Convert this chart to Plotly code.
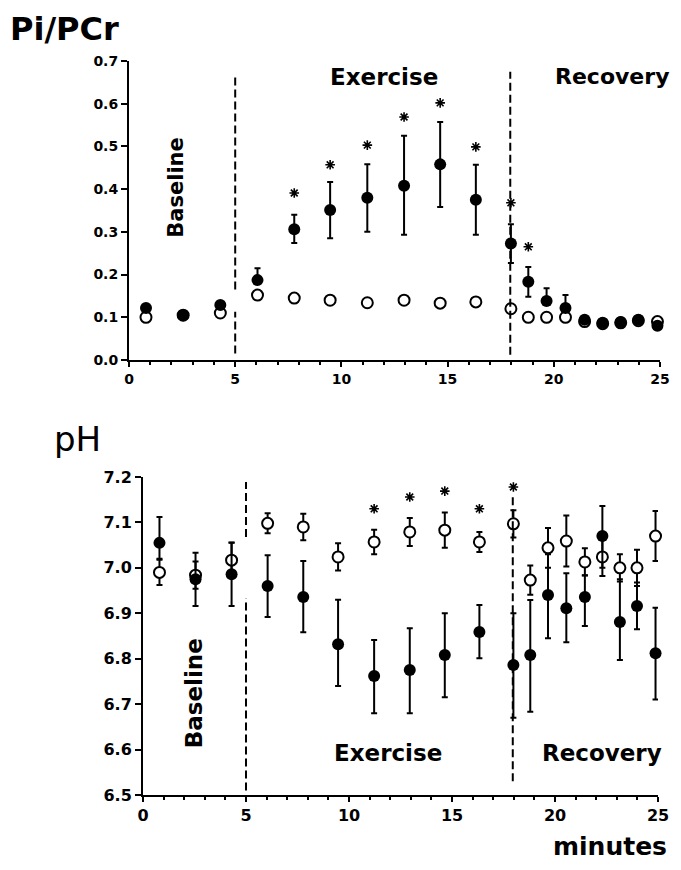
import plotly.graph_objects as go

# ---------------- data ----------------
minutes = [0.8, 2.55, 4.3, 6.05, 7.78, 9.47, 11.22, 12.95, 14.65, 16.33, 17.98,
           18.8, 19.66, 20.55, 21.45, 22.3, 23.15, 23.98, 24.88]

# Pi/PCr (filled = exercise group, open = control)
pi_filled = [0.122, 0.105, 0.129, 0.187, 0.306, 0.351, 0.380, 0.408, 0.458, 0.375,
             0.273, 0.183, 0.138, 0.122, 0.094, 0.087, 0.089, 0.094, 0.080]
pi_filled_up = [0, 0, 0, 0.028, 0.034, 0.066, 0.078, 0.117, 0.099, 0.082,
                0.045, 0.035, 0.030, 0.030, 0, 0, 0, 0, 0]
pi_filled_dn = [0, 0, 0, 0, 0.032, 0.066, 0.080, 0.115, 0.100, 0.082,
                0.046, 0.035, 0, 0, 0, 0, 0, 0, 0]
pi_open = [0.100, 0.105, 0.110, 0.152, 0.145, 0.140, 0.134, 0.140, 0.133, 0.136,
           0.120, 0.100, 0.100, 0.100, 0.090, 0.085, 0.087, 0.092, 0.090]
pi_star_idx = [4, 5, 6, 7, 8, 9, 10, 11]
pi_star_y = [0.391, 0.457, 0.503, 0.569, 0.602, 0.499, 0.368, 0.265]

# pH
ph_filled = [7.055, 6.975, 6.986, 6.960, 6.936, 6.832, 6.762, 6.775, 6.808, 6.859,
             6.786, 6.808, 6.940, 6.911, 6.936, 7.070, 6.881, 6.916, 6.812]
ph_filled_up = [0.057, 0.058, 0.070, 0.068, 0.079, 0.098, 0.079, 0.092, 0.092, 0.059,
                0.114, 0.121, 0.090, 0.077, 0.048, 0.066, 0.094, 0.052, 0.100]
ph_filled_dn = [0.035, 0.059, 0.070, 0.068, 0.078, 0.092, 0.082, 0.095, 0.093, 0.058,
                0.116, 0.125, 0.095, 0.075, 0.064, 0.070, 0.084, 0.051, 0.102]
ph_open = [6.990, 6.984, 7.017, 7.098, 7.090, 7.024, 7.057, 7.079, 7.083, 7.057,
           7.097, 6.973, 7.044, 7.059, 7.013, 7.024, 7.000, 7.000, 7.070]
ph_open_err = [0.028, 0.030, 0.038, 0.022, 0.029, 0.030, 0.027, 0.031, 0.039, 0.022,
               0.030, 0.032, 0.044, 0.056, 0.030, 0.042, 0.030, 0.040, 0.055]
ph_star_idx = [6, 7, 8, 9, 10]
ph_star_y = [7.13, 7.156, 7.169, 7.13, 7.178]

phase_bounds = [5, 17.95]
phase_names = ["Baseline", "Exercise", "Recovery"]

# ---------------- figure ----------------
FONT = "DejaVu Sans"
W, H = 665, 854   # page body has an 8px margin; 665+16 = 681, 854+16 = 870
OFF = 8

def px(p):        # target page x pixel -> paper fraction
    return (p - OFF) / W

def py(p):        # target page y pixel (from top) -> paper fraction
    return 1 - (p - OFF) / H

fig = go.Figure()

def add_panel(xa, ya, y_open, open_up, open_dn, y_fill, fill_up, fill_dn, star_idx, star_y):
    fig.add_trace(go.Scatter(
        x=minutes, y=y_open, mode="markers", xaxis=xa, yaxis=ya, cliponaxis=False,
        marker=dict(symbol="circle", size=11, color="white", line=dict(color="black", width=2)),
        error_y=dict(type="data", symmetric=False, array=open_up, arrayminus=open_dn,
                     color="black", thickness=2, width=3) if open_up is not None else None,
        showlegend=False))
    fig.add_trace(go.Scatter(
        x=minutes, y=y_fill, mode="markers", xaxis=xa, yaxis=ya, cliponaxis=False,
        marker=dict(symbol="circle", size=12, color="black"),
        error_y=dict(type="data", symmetric=False, array=fill_up, arrayminus=fill_dn,
                     color="black", thickness=2, width=3),
        showlegend=False))
    fig.add_trace(go.Scatter(
        x=[minutes[i] for i in star_idx], y=star_y, mode="markers", xaxis=xa, yaxis=ya,
        cliponaxis=False,
        marker=dict(symbol="asterisk-open", size=8, color="black",
                    line=dict(color="black", width=1.6)),
        showlegend=False))

add_panel("x", "y", pi_open, None, None, pi_filled, pi_filled_up, pi_filled_dn,
          pi_star_idx, pi_star_y)
add_panel("x2", "y2", ph_open, ph_open_err, ph_open_err, ph_filled, ph_filled_up,
          ph_filled_dn, ph_star_idx, ph_star_y)

dash_line = dict(color="black", width=2, dash="8px,4px")
# top panel separators
fig.add_shape(type="line", xref="x", yref="y", x0=phase_bounds[0], x1=phase_bounds[0],
              y0=0.165, y1=0.67, line=dash_line)
fig.add_shape(type="line", xref="x", yref="y", x0=phase_bounds[0], x1=phase_bounds[0],
              y0=0.015, y1=0.113, line=dash_line)
fig.add_shape(type="line", xref="x", yref="y", x0=phase_bounds[1], x1=phase_bounds[1],
              y0=0.012, y1=0.675, line=dash_line)
# bottom panel separators
fig.add_shape(type="line", xref="x2", yref="y2", x0=phase_bounds[0], x1=phase_bounds[0],
              y0=7.068, y1=7.189, line=dash_line)
fig.add_shape(type="line", xref="x2", yref="y2", x0=phase_bounds[0], x1=phase_bounds[0],
              y0=6.51, y1=6.933, line=dash_line)
fig.add_shape(type="line", xref="x2", yref="y2", x0=phase_bounds[1], x1=phase_bounds[1],
              y0=6.53, y1=7.16, line=dash_line)

lab_font = dict(family=FONT, size=23, color="black")
ann = [
    dict(text="<b>" + phase_names[0] + "</b>", xref="x", yref="y", x=2.2, y=0.405,
         textangle=-90, showarrow=False, font=dict(family=FONT, size=21, color="black")),
    dict(text="<b>" + phase_names[1] + "</b>", xref="x", yref="y", x=12.0, y=0.663,
         showarrow=False, font=lab_font),
    dict(text="<b>" + phase_names[2] + "</b>", xref="paper", yref="y", x=px(671), y=0.663,
         xanchor="right", showarrow=False, font=dict(family=FONT, size=22, color="black")),
    dict(text="<b>" + phase_names[0] + "</b>", xref="x2", yref="y2", x=2.48, y=6.724,
         textangle=-90, showarrow=False, font=lab_font),
    dict(text="<b>" + phase_names[1] + "</b>", xref="x2", yref="y2", x=11.87, y=6.592,
         showarrow=False, font=lab_font),
    dict(text="<b>" + phase_names[2] + "</b>", xref="x2", yref="y2", x=22.3, y=6.592,
         showarrow=False, font=lab_font),
    dict(text="<b>Pi/PCr</b>", xref="paper", yref="paper", x=0, y=1,
         xanchor="left", yanchor="top", showarrow=False,
         font=dict(family=FONT, size=32, color="black")),
    dict(text="pH", xref="paper", yref="paper", x=px(52), y=py(417),
         xanchor="left", yanchor="top", showarrow=False,
         font=dict(family=FONT, size=34, color="black")),
    dict(text="<b>minutes</b>", xref="paper", yref="paper", x=px(669), y=py(846),
         xanchor="right", yanchor="middle", showarrow=False,
         font=dict(family=FONT, size=25, color="black")),
]

def xcommon(fs):
    return dict(range=[0, 25], showline=True, linecolor="black", linewidth=2,
                ticks="outside", ticklen=5, tickwidth=2, tickcolor="black",
                tickvals=[0, 5, 10, 15, 20, 25],
                ticktext=["<b>%d</b>" % v for v in [0, 5, 10, 15, 20, 25]],
                minor=dict(dtick=1, ticks="outside", ticklen=3, tickwidth=2, tickcolor="black"),
                showgrid=False, zeroline=False, automargin=False,
                tickfont=dict(family=FONT, size=fs, color="black"))

def ycommon(fs):
    return dict(showline=True, linecolor="black", linewidth=2, ticks="outside",
                ticklen=6, tickwidth=2, tickcolor="black", showgrid=False,
                zeroline=False, automargin=False,
                tickfont=dict(family=FONT, size=fs, color="black"))

top_y_vals = [0.0, 0.1, 0.2, 0.3, 0.4, 0.5, 0.6, 0.7]
bot_y_vals = [6.5, 6.6, 6.7, 6.8, 6.9, 7.0, 7.1, 7.2]

fig.update_layout(
    width=W, height=H, margin=dict(l=0, r=0, t=0, b=0, autoexpand=False),
    paper_bgcolor="white", plot_bgcolor="white",
    xaxis=dict(domain=[px(129), px(660)], anchor="y", **xcommon(14)),
    yaxis=dict(domain=[py(360), py(61)], anchor="x", range=[0, 0.7],
               tickvals=top_y_vals, ticktext=["<b>%.1f</b>" % v for v in top_y_vals],
               **ycommon(14)),
    xaxis2=dict(domain=[px(143), px(658)], anchor="y2", **xcommon(16)),
    yaxis2=dict(domain=[py(795), py(477)], anchor="x2", range=[6.5, 7.2],
                tickvals=bot_y_vals, ticktext=["<b>%.1f</b>" % v for v in bot_y_vals],
                **ycommon(16)),
    annotations=ann,
)

fig.write_html("out.html")
